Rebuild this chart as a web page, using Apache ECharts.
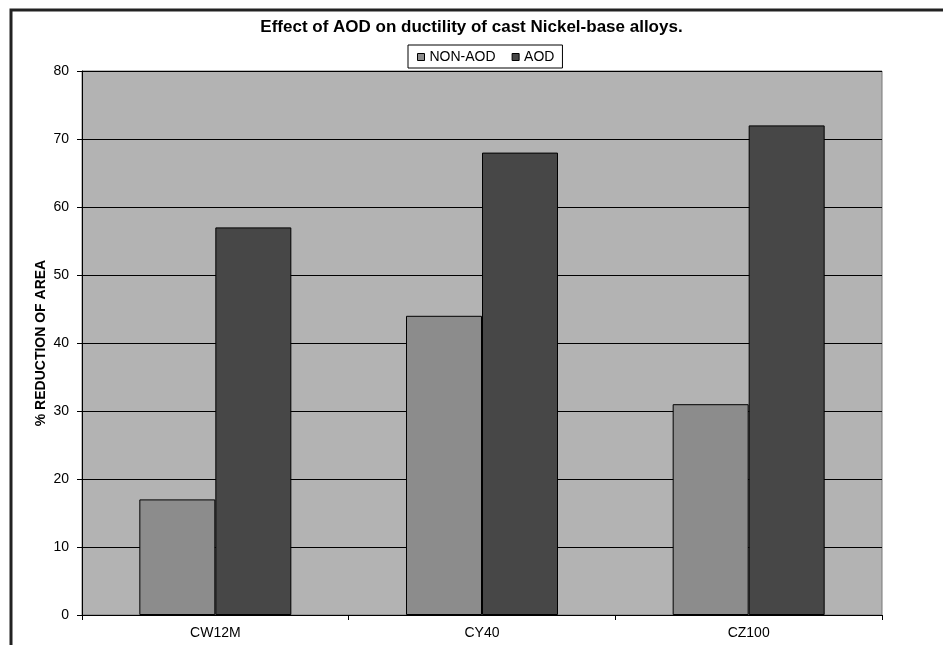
<!DOCTYPE html>
<html><head><meta charset="utf-8">
<script src="https://cdn.jsdelivr.net/npm/echarts@6/dist/echarts.min.js"></script>
<style>html,body{margin:0;padding:0;background:#fff}#c{width:943px;height:645px}</style>
</head><body><div id="c"></div>
<script>
const categories = ['CW12M', 'CY40', 'CZ100'];
const nonAod = [17, 44, 31];
const aod = [57, 68, 72];
const yTicks = [0, 10, 20, 30, 40, 50, 60, 70, 80];

const chart = echarts.init(document.getElementById('c'));
const F = "'Liberation Sans', Arial, sans-serif";
chart.setOption({
  animation: false,
  backgroundColor: '#ffffff',
  graphic: [{
    type: 'rect', z: 100, silent: true,
    shape: { x: 11, y: 10, width: 960, height: 660 },
    style: { fill: 'none', stroke: '#222', lineWidth: 3 }
  }],
  title: {
    text: 'Effect of AOD on ductility of cast Nickel-base alloys.',
    left: 'center', top: 14,
    textStyle: { fontFamily: F, fontWeight: 'bold', fontSize: 17, color: '#000' }
  },
  legend: {
    top: 45, left: 408,
    itemWidth: 7, itemHeight: 7, itemGap: 16,
    icon: 'rect',
    padding: [5, 8, 4, 9],
    borderColor: '#000', borderWidth: 1, backgroundColor: '#fff',
    textStyle: { fontFamily: F, fontSize: 14, color: '#000', padding: [0, 0, 0, 0] },
    data: [
      { name: 'NON-AOD', itemStyle: { color: '#8c8c8c', borderColor: '#000', borderWidth: 1 } },
      { name: 'AOD', itemStyle: { color: '#474747', borderColor: '#000', borderWidth: 1 } }
    ]
  },
  grid: {
    left: 82, right: 61, top: 71, bottom: 30,
    show: true, backgroundColor: '#b3b3b3', borderColor: '#777', borderWidth: 1
  },
  xAxis: {
    type: 'category', data: categories,
    axisLine: { lineStyle: { color: '#000', width: 1 } },
    axisTick: { show: true, length: 5, lineStyle: { color: '#000' } },
    axisLabel: { fontFamily: F, fontSize: 14, color: '#000', margin: 11 }
  },
  yAxis: {
    type: 'value', min: 0, max: 80, interval: 10,
    name: '% REDUCTION OF AREA', nameLocation: 'middle', nameGap: 34, nameMoveOverlap: false,
    nameTextStyle: { fontFamily: F, fontWeight: 'bold', fontSize: 14, color: '#000' },
    axisLine: { show: true, lineStyle: { color: '#000', width: 1 } },
    axisTick: { show: true, length: 5, lineStyle: { color: '#000' } },
    axisLabel: { fontFamily: F, fontSize: 14, color: '#000', margin: 13,
      formatter: v => yTicks.includes(v) ? String(v) : '' },
    splitLine: { show: true, lineStyle: { color: '#000', width: 1 } }
  },
  series: [
    { name: 'NON-AOD', type: 'bar', data: nonAod, barGap: '0%', barCategoryGap: '43%',
      itemStyle: { color: '#8c8c8c', borderColor: '#000', borderWidth: 1 } },
    { name: 'AOD', type: 'bar', data: aod, barGap: '0%', barCategoryGap: '43%',
      itemStyle: { color: '#474747', borderColor: '#000', borderWidth: 1 } }
  ]
});
</script></body></html>
